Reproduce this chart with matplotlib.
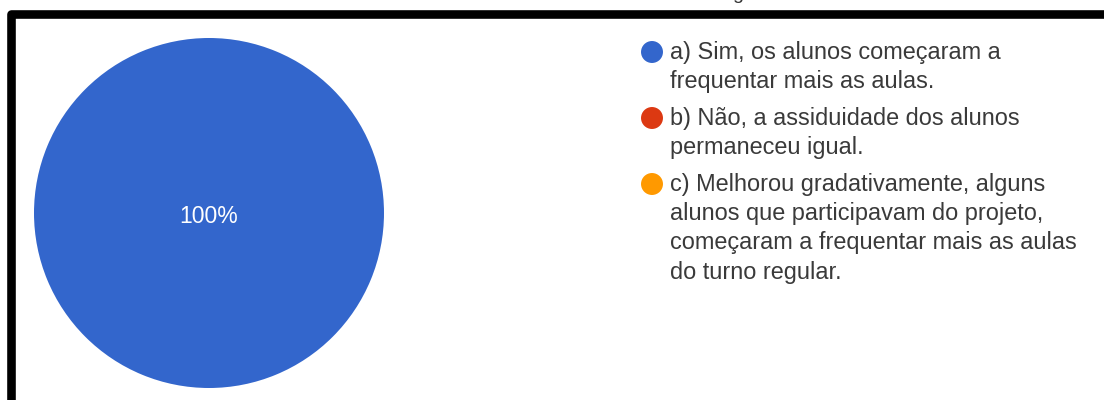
import matplotlib
matplotlib.use('Agg')
import matplotlib.pyplot as plt
from matplotlib.lines import Line2D

plt.rcParams['font.family'] = ['Liberation Sans', 'DejaVu Sans']

# respostas e percentuais
labels = [
    'a) Sim, os alunos começaram a\nfrequentar mais as aulas.',
    'b) Não, a assiduidade dos alunos\npermaneceu igual.',
    'c) Melhorou gradativamente, alguns\nalunos que participavam do projeto,\ncomeçaram a frequentar mais as aulas\ndo turno regular.',
]
values = [100, 0, 0]
colors = ['#3366cc', '#dc3912', '#ff9900']

W, H = 1104, 400
fig = plt.figure(figsize=(W / 100, H / 100), dpi=100)
fig.patch.set_facecolor('white')

# pizza
ax = fig.add_axes([34 / W, 12 / H, 350 / W, 350 / H])
wedges, texts, autotexts = ax.pie(
    values, colors=colors, startangle=90, counterclock=False,
    autopct=lambda p: f'{p:.0f}%' if p > 0 else '',
    pctdistance=0.0, wedgeprops=dict(linewidth=0),
    textprops=dict(color='white', fontsize=16.5))
for t in autotexts:
    t.set_y(-0.02)
ax.set_xlim(-1, 1)
ax.set_ylim(-1, 1)
ax.set_aspect('equal')
ax.axis('off')

# camada em pixels para legenda e moldura
ov = fig.add_axes([0, 0, 1, 1], facecolor='none')
ov.set_xlim(0, W)
ov.set_ylim(H, 0)
ov.axis('off')

line_h = 29.5
gap = 7
y = 52
for lab, col in zip(labels, colors):
    ov.scatter([652], [y], s=250, color=col, edgecolors='none', zorder=3)
    for i, part in enumerate(lab.split('\n')):
        ov.text(670, y + i * line_h, part, fontsize=16.9, color='#3a3a3a',
                va='center', ha='left')
    y += len(lab.split('\n')) * line_h + gap

# moldura preta
ov.add_line(Line2D([10.5, 10.5, W + 10], [H + 10, 13.5, 13.5], color='black',
                   linewidth=6.2, solid_joinstyle='round', clip_on=False))
ov.text(738, -1, 'g', fontsize=14, color='#333333', ha='center', va='baseline')

fig.savefig('out.png', dpi=100)
